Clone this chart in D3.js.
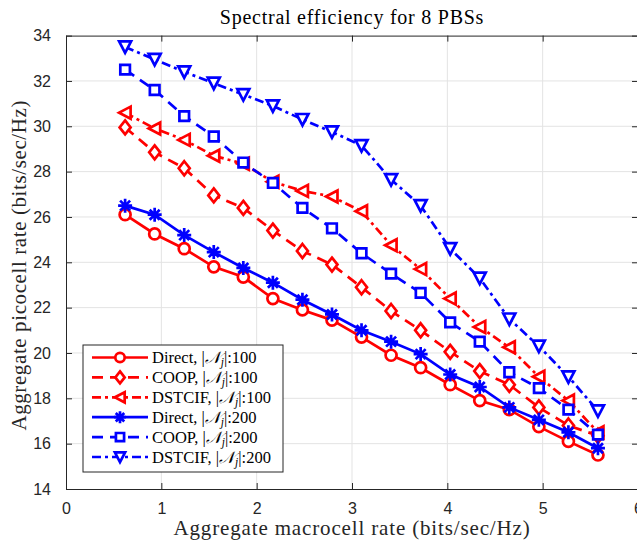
<!DOCTYPE html>
<html>
<head>
<meta charset="utf-8">
<script src="https://cdn.jsdelivr.net/npm/d3@7"></script>
<style>
  body { margin: 0; background: #fff; }
  svg { display: block; }
</style>
</head>
<body>
<script>
// rates
var macroRate = [0.62, 0.93, 1.24, 1.55, 1.86, 2.17, 2.48, 2.79, 3.10, 3.41, 3.72, 4.03, 4.34, 4.65, 4.96, 5.27, 5.58];
var direct100 = [26.1, 25.25, 24.6, 23.8, 23.35, 22.4, 21.9, 21.45, 20.7, 19.9, 19.35, 18.6, 17.9, 17.5, 16.75, 16.1, 15.5];
var coop100   = [29.95, 28.85, 28.15, 26.95, 26.4, 25.4, 24.5, 23.9, 22.9, 21.85, 21.0, 20.05, 19.2, 18.6, 17.6, 16.8, 16.35];
var dstcif100 = [30.6, 29.9, 29.4, 28.7, 28.35, 27.55, 27.15, 26.9, 26.25, 24.75, 23.7, 22.4, 21.15, 20.25, 18.95, 17.9, 16.5];
var direct200 = [26.5, 26.1, 25.2, 24.45, 23.75, 23.1, 22.35, 21.7, 21.0, 20.5, 19.95, 19.05, 18.5, 17.6, 17.05, 16.5, 15.8];
var coop200   = [32.5, 31.6, 30.45, 29.55, 28.4, 27.5, 26.4, 25.5, 24.4, 23.5, 22.65, 21.35, 20.5, 19.15, 18.45, 17.5, 16.4];
var dstcif200 = [33.5, 32.95, 32.4, 31.9, 31.4, 30.9, 30.3, 29.75, 29.15, 27.65, 26.5, 24.6, 23.3, 21.5, 20.3, 18.95, 17.45];

var schemeNames = ["Direct", "COOP", "DSTCIF", "Direct", "COOP", "DSTCIF"];
var userCounts = ["100", "100", "100", "200", "200", "200"];
var xTicks = [0, 1, 2, 3, 4, 5, 6];
var yTicks = [14, 16, 18, 20, 22, 24, 26, 28, 30, 32, 34];

// look of each series
var series = [
  {values: direct100, color: "#ff0000", dash: null,        marker: "circle"},
  {values: coop100,   color: "#ff0000", dash: "11,7",      marker: "diamond"},
  {values: dstcif100, color: "#ff0000", dash: "9,4,3,4",   marker: "triLeft"},
  {values: direct200, color: "#0000ff", dash: null,        marker: "star"},
  {values: coop200,   color: "#0000ff", dash: "11,7",      marker: "square"},
  {values: dstcif200, color: "#0000ff", dash: "9,4,3,4",   marker: "triDown"}
];

var margin = {top: 35.6, left: 66},
    width = 572,
    height = 453.4;

var x = d3.scaleLinear().domain([0, 6]).range([0, width]);
var y = d3.scaleLinear().domain([14, 34]).range([height, 0]);

var svg = d3.select("body").append("svg")
    .attr("width", 637)
    .attr("height", 541);

var g = svg.append("g")
    .attr("transform", "translate(" + margin.left + "," + margin.top + ")");

// grid
g.append("g").selectAll("line")
    .data(xTicks.slice(1, -1))
    .enter().append("line")
    .attr("x1", function(d){ return x(d); })
    .attr("x2", function(d){ return x(d); })
    .attr("y1", 0).attr("y2", height)
    .style("stroke", "#e3e3e3");
g.append("g").selectAll("line")
    .data(yTicks.slice(1, -1))
    .enter().append("line")
    .attr("y1", function(d){ return y(d); })
    .attr("y2", function(d){ return y(d); })
    .attr("x1", 0).attr("x2", width)
    .style("stroke", "#e3e3e3");

// axes, ticks pointing in, box on
var axisColor = "#262626";
function styleAxis(sel) {
  sel.select(".domain").style("stroke", axisColor);
  sel.selectAll(".tick line").style("stroke", axisColor);
  sel.selectAll("text").style("fill", axisColor)
     .style("font-family", "'Liberation Sans', Arial, sans-serif")
     .style("font-size", "16px");
}
g.append("g")
    .attr("transform", "translate(0," + height + ")")
    .call(d3.axisBottom(x).tickValues(xTicks).tickSize(-6).tickSizeOuter(0).tickPadding(14).tickFormat(d3.format("d")))
    .call(styleAxis);
g.append("g")
    .call(d3.axisTop(x).tickValues(xTicks).tickSize(-6).tickSizeOuter(0).tickFormat(""))
    .call(styleAxis);
g.append("g")
    .call(d3.axisLeft(y).tickValues(yTicks).tickSize(-6).tickSizeOuter(0).tickPadding(15).tickFormat(d3.format("d")))
    .call(styleAxis);
g.append("g")
    .attr("transform", "translate(" + width + ",0)")
    .call(d3.axisRight(y).tickValues(yTicks).tickSize(-6).tickSizeOuter(0).tickFormat(""))
    .call(styleAxis);

// marker shapes
function markerPath(type, k) {
  k = k || 1;
  var p = d3.path();
  if (type === "circle") {
    p.moveTo(5.5 * k, 0); p.arc(0, 0, 5.5 * k, 0, 2 * Math.PI);
  } else if (type === "square") {
    p.rect(-4.8 * k, -4.8 * k, 9.6 * k, 9.6 * k);
  } else if (type === "diamond") {
    p.moveTo(0, -7 * k); p.lineTo(5.5 * k, 0); p.lineTo(0, 7 * k); p.lineTo(-5.5 * k, 0); p.closePath();
  } else if (type === "triLeft") {
    p.moveTo(-6 * k, 0); p.lineTo(5.5 * k, -6 * k); p.lineTo(5.5 * k, 6 * k); p.closePath();
  } else if (type === "triDown") {
    p.moveTo(0, 6 * k); p.lineTo(-6 * k, -5.5 * k); p.lineTo(6 * k, -5.5 * k); p.closePath();
  } else if (type === "star") {
    var r = 7 * k, s = 5 * k;
    p.moveTo(-r, 0); p.lineTo(r, 0);
    p.moveTo(0, -r); p.lineTo(0, r);
    p.moveTo(-s, -s); p.lineTo(s, s);
    p.moveTo(-s, s); p.lineTo(s, -s);
  }
  return p.toString();
}

var line = d3.line()
    .x(function(d, i){ return x(macroRate[i]); })
    .y(function(d){ return y(d); });

series.forEach(function(s) {
  var sg = g.append("g");
  sg.append("path")
      .datum(s.values)
      .attr("d", line)
      .style("fill", "none")
      .style("stroke", s.color)
      .style("stroke-width", 2.7)
      .style("stroke-dasharray", s.dash);
  sg.selectAll(".mk")
      .data(s.values)
      .enter().append("path")
      .attr("transform", function(d, i){ return "translate(" + x(macroRate[i]) + "," + y(d) + ")"; })
      .attr("d", markerPath(s.marker))
      .style("fill", s.marker === "star" ? "none" : "#fff")
      .style("stroke", s.color)
      .style("stroke-width", 2.7);
});

// title and axis labels
var serif = "'Liberation Serif', 'Times New Roman', serif";
svg.append("text")
    .attr("x", margin.left + width / 2)
    .attr("y", 24)
    .attr("text-anchor", "middle")
    .style("font-family", serif)
    .style("font-size", "20px")
    .style("letter-spacing", "0.75px")
    .style("fill", "#000")
    .text("Spectral efficiency for 8 PBSs");

svg.append("text")
    .attr("x", margin.left + width / 2)
    .attr("y", 535)
    .attr("text-anchor", "middle")
    .style("font-family", serif)
    .style("font-size", "21px")
    .style("letter-spacing", "0.85px")
    .style("fill", "#262626")
    .text("Aggregate macrocell rate (bits/sec/Hz)");

svg.append("text")
    .attr("transform", "translate(26," + (margin.top + height / 2 + 3) + ") rotate(-90)")
    .attr("text-anchor", "middle")
    .style("font-family", serif)
    .style("font-size", "21px")
    .style("letter-spacing", "0.6px")
    .style("fill", "#262626")
    .text("Aggregate picocell rate (bits/sec/Hz)");

// legend
var legend = svg.append("g").attr("transform", "translate(83,345)");
legend.append("rect")
    .attr("width", 200).attr("height", 127)
    .style("fill", "#fff")
    .style("stroke", axisColor);

series.forEach(function(s, i) {
  var row = legend.append("g").attr("transform", "translate(0," + (12.5 + i * 19.9) + ")");
  row.append("line")
      .attr("x1", 9).attr("x2", 65)
      .style("stroke", s.color)
      .style("stroke-width", 2.7)
      .style("stroke-dasharray", s.dash);
  row.append("path")
      .attr("transform", "translate(37,0)")
      .attr("d", markerPath(s.marker, 0.85))
      .style("fill", s.marker === "star" ? "none" : "#fff")
      .style("stroke", s.color)
      .style("stroke-width", 2.7);
  var t = row.append("text")
      .attr("x", 69)
      .attr("y", 5.5)
      .style("font-size", "16.5px")
      .style("fill", "#000");
  t.append("tspan").style("font-family", serif).text(schemeNames[i] + ", |");
  t.append("tspan").style("font-family", "'DejaVu Serif', 'DejaVu Sans', serif").style("font-style", "italic").text("𝒩");
  t.append("tspan").style("font-family", serif).style("font-style", "italic").style("font-size", "11.5px").attr("dy", 3).text("j");
  t.append("tspan").style("font-family", serif).attr("dy", -3).text("|:" + userCounts[i]);
});
</script>
</body>
</html>
